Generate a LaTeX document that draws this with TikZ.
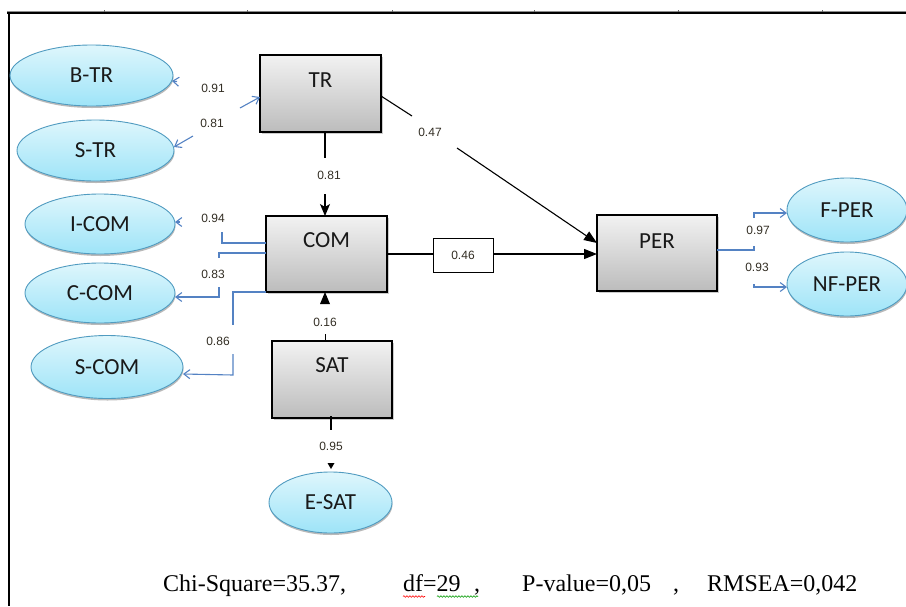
\documentclass[tikz,border=0pt]{standalone}
\usepackage{fontspec}
\setmainfont{Liberation Serif}
\newfontfamily\calib{Carlito}
\newfontfamily\lsans{Liberation Sans}
\usetikzlibrary{arrows.meta,shadows,calc,shapes.geometric,decorations.pathmorphing}
\definecolor{ellborder}{RGB}{80,155,192}
\definecolor{elltop}{RGB}{222,246,252}
\definecolor{ellbot}{RGB}{158,228,248}
\definecolor{boxtop}{RGB}{242,242,242}
\definecolor{boxbot}{RGB}{188,188,188}
\definecolor{loadblue}{RGB}{84,130,195}
\definecolor{numcol}{RGB}{50,45,35}
\begin{document}
\begin{tikzpicture}[x=1pt,y=-1pt,
  ell/.style={ellipse, draw=ellborder, line width=0.9pt, top color=elltop, bottom color=ellbot,
    inner sep=0pt, outer sep=0pt, font=\calib\fontsize{23}{25}\selectfont, text=black!90,
    drop shadow={shadow xshift=0.5pt, shadow yshift=-2pt, fill=black!50, opacity=0.55}},
  boxnode/.style={rectangle, draw=black, line width=1.1pt, top color=boxtop, bottom color=boxbot,
    minimum width=121pt, minimum height=77pt, inner sep=0pt, outer sep=0pt,
    drop shadow={shadow xshift=1.5pt, shadow yshift=-1.5pt, fill=black!40, opacity=0.5}},
  boxlabel/.style={font=\calib\fontsize{23}{25}\selectfont, text=black!90, inner sep=0pt},
  num/.style={font=\lsans\fontsize{12}{14}\selectfont, text=numcol, inner sep=1pt},
  load/.style={draw=loadblue, line width=1.1pt},
  barb/.style={-{Straight Barb[length=6pt,width=9pt]}},
  blk/.style={draw=black, line width=1.2pt},
  foot/.style={font=\fontsize{24}{26}\selectfont, anchor=base west, inner sep=0pt}
]
\useasboundingbox (0,0) rectangle (906,606);
% frame
\draw[black!45, line width=0.5pt] (7,11.2) -- (906,11.2);
\foreach \xx in {104,247,392,534,678,822} \draw[black!60, line width=0.6pt] (\xx,10) -- (\xx,12);
\draw[black, line width=2.2pt] (7,13) -- (906,13);
\draw[black, line width=2pt] (8.5,12) -- (8.5,606);

% ellipses
\node[ell, minimum width=163pt, minimum height=61pt] (BTR) at (91.5,75.5) {B-TR};
\node[ell, minimum width=157pt, minimum height=61pt] (STR) at (95.5,150.5) {S-TR};
\node[ell, minimum width=150pt, minimum height=60pt] (ICOM) at (100,224) {I-COM};
\node[ell, minimum width=150pt, minimum height=60pt] (CCOM) at (100,293) {C-COM};
\node[ell, minimum width=152pt, minimum height=63pt] (SCOM) at (107,367) {S-COM};
\node[ell, minimum width=123pt, minimum height=61pt] (ESAT) at (330.5,502.5) {E-SAT};
\node[ell, minimum width=120pt, minimum height=64pt] (FPER) at (847,210) {F-PER};
\node[ell, minimum width=120pt, minimum height=64pt] (NFPER) at (847,284) {NF-PER};

% boxes
\node[boxnode] (TR) at (320.5,93.5) {};
\node[boxnode, minimum height=76pt] (COM) at (326.5,254) {};
\node[boxnode, minimum width=120pt] (SAT) at (332,379.5) {};
\node[boxnode, minimum width=120pt, minimum height=76pt] (PER) at (657,253) {};
\node[boxlabel] (TRt) at ($(TR.north)+(0,25)$) {TR};
\node[boxlabel] (COMt) at ($(COM.north)+(0,24)$) {COM};
\node[boxlabel] (SATt) at ($(SAT.north)+(0,24)$) {SAT};
\node[boxlabel] (PERt) at ($(PER.north)+(0,26)$) {PER};
\node[rectangle, draw=black, line width=0.9pt, fill=white, minimum width=60pt, minimum height=34pt, inner sep=0pt, outer sep=0pt, font=\lsans\fontsize{12}{14}\selectfont, text=numcol] (B46) at (463,255) {0.46};

% TR loadings
\coordinate (trA) at (240,108);
\draw[load, barb] (trA) -- ($(TR.west)+(0,3.5)$);
\coordinate (trB) at (177,81.5);
\draw[load, barb] (trB) -- ($(BTR.east)+(-1,5.5)$);
\coordinate (trC) at (193,136);
\draw[load, barb] (trC) -- ($(STR.east)+(0,-3.5)$);
\node[num] (n91) at (213,88) {0.91};
\node[num] (n81a) at (212,123) {0.81};

% TR -> COM
\coordinate (tc1) at ($(TR.south)+(4.5,26)$);
\draw[blk] ($(TR.south)+(4.5,0)$) -- (tc1);
\node[num] (n81b) at (329,175) {0.81};
\coordinate (tc2) at ($(COM.north)+(-1.5,-22)$);
\draw[blk, -{Stealth[length=12pt,width=10pt,inset=3pt]}] (tc2) -- ($(COM.north)+(-1.5,0)$);

% TR -> PER
\coordinate (tp1) at (412,116);
\draw[blk, line width=1.1pt] ($(TR.east)+(0,2.5)$) -- (tp1);
\node[num] (n47) at (430,132) {0.47};
\coordinate (tp2) at (457,148);
\draw[blk, line width=1.1pt, -{Triangle[length=13pt,width=10pt]}] (tp2) -- ($(PER.west)+(0,-10)$);

% COM -> PER
\draw[blk] (COM.east) -- (COM.east -| B46.west);
\draw[blk, -{Triangle[length=13pt,width=10pt]}] (B46.east |- COM.east) -- (PER.west |- COM.east);

% COM loadings
\draw[load] ($(COM.west)+(0,-11)$) -- ++(-44,0) -- ++(0,-11);
\coordinate (ic1) at (180,222);
\draw[load, barb] (ic1) -- ($(ICOM.east)+(0,-2)$);
\node[num] (n94) at (213,218) {0.94};
\draw[load] ($(COM.west)+(0,-1)$) -- ++(-47,0) -- ++(0,5);
\coordinate (cc1) at (219,287);
\draw[load, barb] (cc1) -- (219,297) -- ($(CCOM.east)+(0,4)$);
\node[num] (n83) at (213,274) {0.83};
\draw[load] (COM.south west) -- ++(-33,0) -- ++(0,33);
\coordinate (sc1) at (233,354);
\draw[load, barb] (sc1) -- (233,375) -- ($(SCOM.east)+(0,7)$);
\node[num] (n86) at (218,341) {0.86};

% SAT -> COM
\draw[blk, line width=1pt] ($(SAT.north)+(-7,0)$) -- ++(0,-7);
\node[num] (n16) at (325,322) {0.16};
\draw[draw=none, fill=black] ($(COM.south)+(-1.5,0)$) -- ++(-5,12) -- ++(10,0) -- cycle;

% SAT -> E-SAT
\draw[blk, line width=1.5pt] ($(SAT.south)+(-1,-2)$) -- ++(0,14);
\node[num] (n95) at (331,446) {0.95};
\draw[fill=black, draw=none] ($(ESAT.north)+(0.5,-3)$) -- ++(-3.5,-6) -- ++(7,0) -- cycle;

% PER loadings
\draw[load] ($(PER.east)+(0,-3)$) -- ++(37,0) -- ++(0,-4);
\coordinate (pf1) at (754,218);
\draw[load, barb] (pf1) -- (754,213) -- ($(FPER.west)+(0,3)$);
\coordinate (pn1) at (754,284);
\draw[load, barb] (pn1) -- (754,287) -- ($(NFPER.west)+(0,3)$);
\node[num] (n97) at (758,230) {0.97};
\node[num] (n93) at (757,267) {0.93};

% footer
\node[foot] (chi) at (163,591) {Chi-Square=35.37,};
\node[foot] (df) at (403,591) {df=29};
\node[foot] (c1) at (474,591) {,};
\node[foot] (pv) at (522,591) {P-value=0,05};
\node[foot] (c2) at (673,591) {,};
\node[foot] (rm) at (707,591) {RMSEA=0,042};
\draw[red, line width=0.6pt, decorate, decoration={snake, amplitude=0.8pt, segment length=3pt}] (403,596.5) -- (425,596.5);
\draw[green!60!black, line width=0.6pt, decorate, decoration={snake, amplitude=0.8pt, segment length=3pt}] (437,596.5) -- (478,596.5);
\end{tikzpicture}
\end{document}
